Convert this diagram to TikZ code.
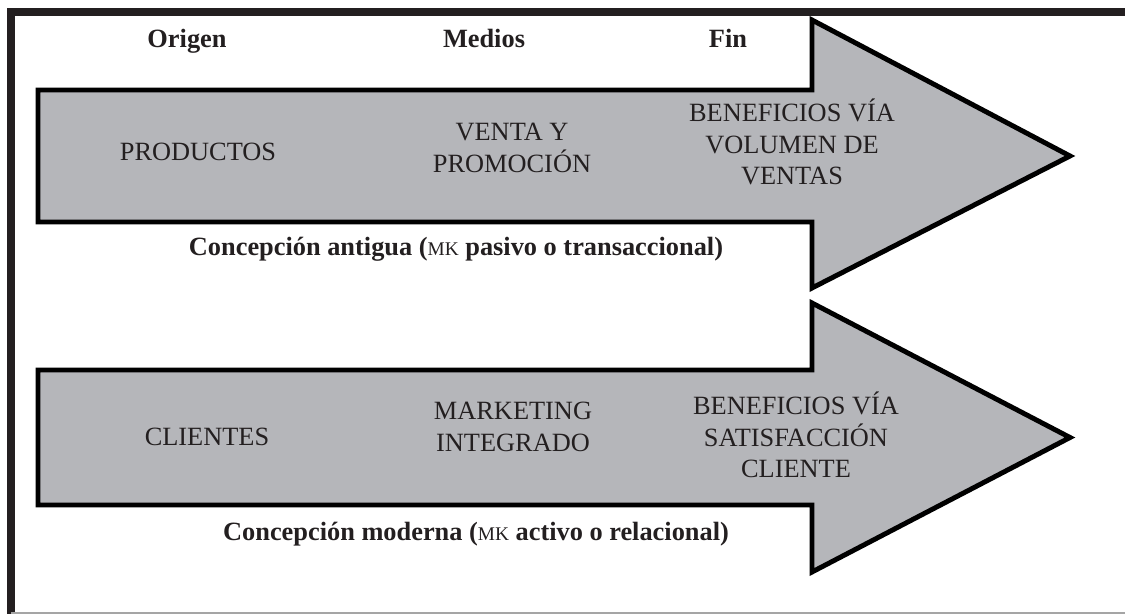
\documentclass[tikz,border=0pt]{standalone}
\usepackage{fontspec}
\setmainfont{Liberation Serif}
\usepackage{tikz}
\usetikzlibrary{calc}

\definecolor{ink}{RGB}{35,31,32}
\definecolor{arrowgray}{RGB}{181,182,186}
\definecolor{rulegray}{RGB}{165,165,165}

\tikzset{
	header/.style={font=\fontsize{15}{18}\selectfont\bfseries, text=ink, anchor=base},
	stage/.style={font=\fontsize{15}{18}\selectfont, text=ink, align=center},
	caption/.style={font=\fontsize{15}{18}\selectfont\bfseries, text=ink, anchor=base},
	bigarrow/.style={draw=black, line width=2.8pt, fill=arrowgray, line join=miter},
}

\newcommand{\mksc}{{\mdseries\fontsize{11}{11}\selectfont MK}}

\begin{document}
\begin{tikzpicture}[x=0.02cm, y=-0.02cm]

% parameters %{{{2

	\def\bodyleft{38}
	\def\neck{812}
	\def\tipx{1070}

% frame %{{{2

	\useasboundingbox (0,0) rectangle (1125,614);
	\fill[white] (0,0) rectangle (1125,614);
	\draw[line width=4.5pt, ink] (11,614) -- (11,12) -- (1125,12);
	\draw[line width=0.8pt, rulegray] (11,613) -- (1125,613);

% arrows %{{{2

	\foreach \name/\top/\bot/\headtop/\headbot in {old/90/222/20/288, new/370/505/303/572} {
		\coordinate (\name-tip) at (\tipx,{(\top+\bot)/2});
		\draw[bigarrow] (\bodyleft,\top) -- (\neck,\top) -- (\neck,\headtop)
			-- (\name-tip) -- (\neck,\headbot) -- (\neck,\bot) -- (\bodyleft,\bot) -- cycle;
	}

% headers %{{{2

	\node[header] (origen) at (187,48) {Origen};
	\node[header] (medios) at (484,48) {Medios};
	\node[header] (fin) at (728,48) {Fin};

% old conception %{{{2

	\node[stage] (productos) at (198,152) {PRODUCTOS};
	\node[stage] (venta) at (512,148) {VENTA Y\\PROMOCIÓN};
	\node[stage] (volumen) at (792,142) {BENEFICIOS VÍA\\VOLUMEN DE\\VENTAS};
	\node[caption] (antigua) at (456,256) {Concepción antigua (\mksc{} pasivo o transaccional)};

% modern conception %{{{2

	\node[stage] (clientes) at (207,437) {CLIENTES};
	\node[stage] (marketing) at (513,427) {MARKETING\\INTEGRADO};
	\node[stage] (satisfaccion) at (796,435) {BENEFICIOS VÍA\\SATISFACCIÓN\\CLIENTE};
	\node[caption] (moderna) at (476,540) {Concepción moderna (\mksc{} activo o relacional)};

\end{tikzpicture}
\end{document}
